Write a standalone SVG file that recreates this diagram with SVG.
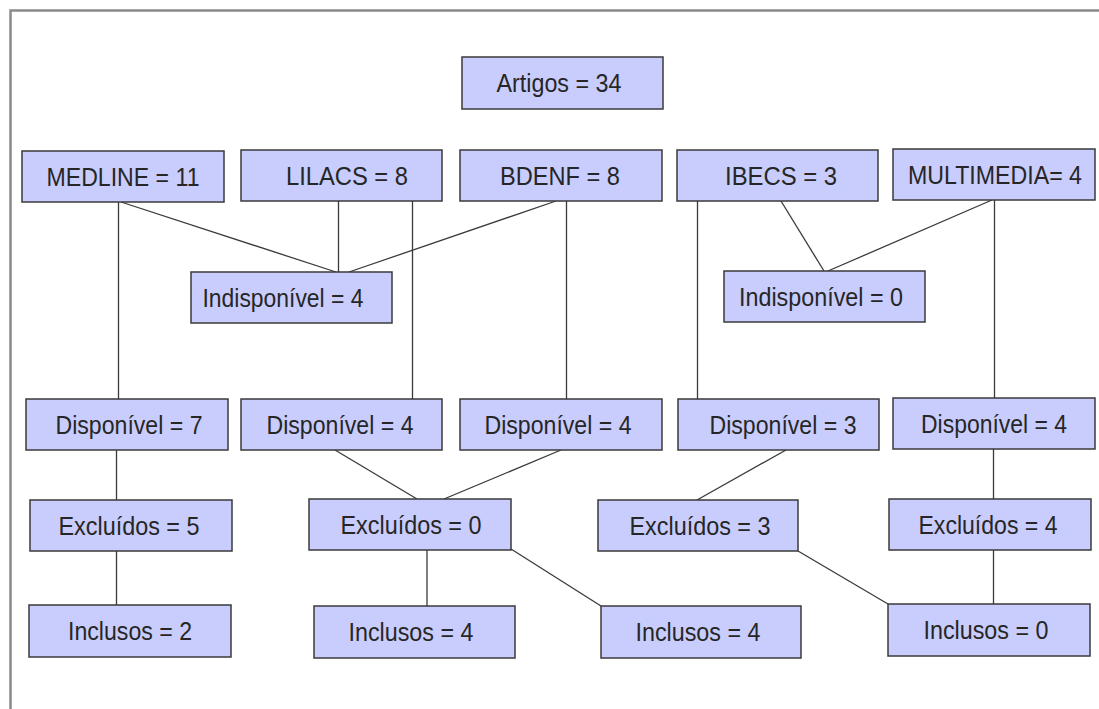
<svg xmlns="http://www.w3.org/2000/svg" width="1099" height="709" viewBox="0 0 1099 709">
<style>
.box{fill:#c9cdfd;stroke:#3a3a3a;stroke-width:1.5}
.lbl{font-family:"Liberation Sans",Arial,sans-serif;font-size:25px;fill:#262626;text-anchor:middle}
.conn line{stroke:#3a3a3a;stroke-width:1.3}
.frame{stroke:#8a8a8a;stroke-width:2.5;fill:none}
</style>
<rect width="1099" height="709" fill="#ffffff"/>
<path class="frame" d="M10.5,709 V10.5 H1099"/>
<g id="connectors" class="conn">
<line x1="118.5" y1="202" x2="118.5" y2="399"/>
<line x1="121" y1="202" x2="336" y2="272"/>
<line x1="338.5" y1="201" x2="338.5" y2="272"/>
<line x1="412.5" y1="201" x2="412.5" y2="399"/>
<line x1="556" y1="201" x2="349" y2="272"/>
<line x1="566.5" y1="201" x2="566.5" y2="399"/>
<line x1="697.5" y1="201" x2="697.5" y2="399"/>
<line x1="781" y1="201" x2="824" y2="271"/>
<line x1="992" y1="200" x2="828" y2="271"/>
<line x1="994.5" y1="200" x2="994.5" y2="398"/>
<line x1="116.5" y1="450" x2="116.5" y2="500"/>
<line x1="116.5" y1="551" x2="116.5" y2="605"/>
<line x1="335" y1="450" x2="417" y2="499"/>
<line x1="561" y1="450" x2="444" y2="499"/>
<line x1="786" y1="450" x2="697" y2="500"/>
<line x1="993.5" y1="449" x2="993.5" y2="499"/>
<line x1="427" y1="550" x2="427" y2="606"/>
<line x1="511" y1="549" x2="601" y2="606"/>
<line x1="798" y1="551" x2="888" y2="604"/>
<line x1="993.5" y1="550" x2="993.5" y2="604"/>
</g>
<g id="artigos"><rect class="box" x="462" y="57" width="201" height="52"/><text class="lbl" x="559" y="92" textLength="125" lengthAdjust="spacingAndGlyphs">Artigos = 34</text></g>
<g id="medline"><rect class="box" x="22" y="151" width="202" height="51"/><text class="lbl" x="123" y="186" textLength="153" lengthAdjust="spacingAndGlyphs">MEDLINE = 11</text></g>
<g id="lilacs"><rect class="box" x="241" y="150" width="201" height="51"/><text class="lbl" x="347" y="185" textLength="122" lengthAdjust="spacingAndGlyphs">LILACS = 8</text></g>
<g id="bdenf"><rect class="box" x="460" y="150" width="202" height="51"/><text class="lbl" x="560" y="185" textLength="120" lengthAdjust="spacingAndGlyphs">BDENF = 8</text></g>
<g id="ibecs"><rect class="box" x="677" y="150" width="201" height="51"/><text class="lbl" x="781" y="185" textLength="112" lengthAdjust="spacingAndGlyphs">IBECS = 3</text></g>
<g id="multimedia"><rect class="box" x="893" y="149" width="202" height="51"/><text class="lbl" x="995" y="184" textLength="174" lengthAdjust="spacingAndGlyphs">MULTIMEDIA= 4</text></g>
<g id="indisp4"><rect class="box" x="191" y="272" width="201" height="51"/><text class="lbl" x="283" y="307" textLength="161" lengthAdjust="spacingAndGlyphs">Indisponível = 4</text></g>
<g id="indisp0"><rect class="box" x="724" y="271" width="201" height="51"/><text class="lbl" x="821" y="306" textLength="164" lengthAdjust="spacingAndGlyphs">Indisponível = 0</text></g>
<g id="disp7"><rect class="box" x="26" y="399" width="202" height="51"/><text class="lbl" x="129" y="434" textLength="147" lengthAdjust="spacingAndGlyphs">Disponível = 7</text></g>
<g id="disp4l"><rect class="box" x="241" y="399" width="201" height="51"/><text class="lbl" x="340" y="434" textLength="147" lengthAdjust="spacingAndGlyphs">Disponível = 4</text></g>
<g id="disp4b"><rect class="box" x="460" y="399" width="202" height="51"/><text class="lbl" x="558" y="434" textLength="147" lengthAdjust="spacingAndGlyphs">Disponível = 4</text></g>
<g id="disp3"><rect class="box" x="678" y="399" width="201" height="51"/><text class="lbl" x="783" y="434" textLength="147" lengthAdjust="spacingAndGlyphs">Disponível = 3</text></g>
<g id="disp4m"><rect class="box" x="893" y="398" width="202" height="51"/><text class="lbl" x="994" y="433" textLength="146" lengthAdjust="spacingAndGlyphs">Disponível = 4</text></g>
<g id="excl5"><rect class="box" x="30" y="500" width="202" height="51"/><text class="lbl" x="129" y="535" textLength="141" lengthAdjust="spacingAndGlyphs">Excluídos = 5</text></g>
<g id="excl0"><rect class="box" x="309" y="499" width="202" height="51"/><text class="lbl" x="411" y="534" textLength="141" lengthAdjust="spacingAndGlyphs">Excluídos = 0</text></g>
<g id="excl3"><rect class="box" x="598" y="500" width="200" height="51"/><text class="lbl" x="700" y="535" textLength="141" lengthAdjust="spacingAndGlyphs">Excluídos = 3</text></g>
<g id="excl4"><rect class="box" x="889" y="499" width="202" height="51"/><text class="lbl" x="988" y="534" textLength="139" lengthAdjust="spacingAndGlyphs">Excluídos = 4</text></g>
<g id="incl2"><rect class="box" x="29" y="605" width="202" height="52"/><text class="lbl" x="130" y="640" textLength="124" lengthAdjust="spacingAndGlyphs">Inclusos = 2</text></g>
<g id="incl4a"><rect class="box" x="314" y="606" width="201" height="52"/><text class="lbl" x="411" y="641" textLength="125" lengthAdjust="spacingAndGlyphs">Inclusos = 4</text></g>
<g id="incl4b"><rect class="box" x="601" y="606" width="200" height="52"/><text class="lbl" x="698" y="641" textLength="125" lengthAdjust="spacingAndGlyphs">Inclusos = 4</text></g>
<g id="incl0"><rect class="box" x="888" y="604" width="202" height="52"/><text class="lbl" x="986" y="639" textLength="125" lengthAdjust="spacingAndGlyphs">Inclusos = 0</text></g>
</svg>
